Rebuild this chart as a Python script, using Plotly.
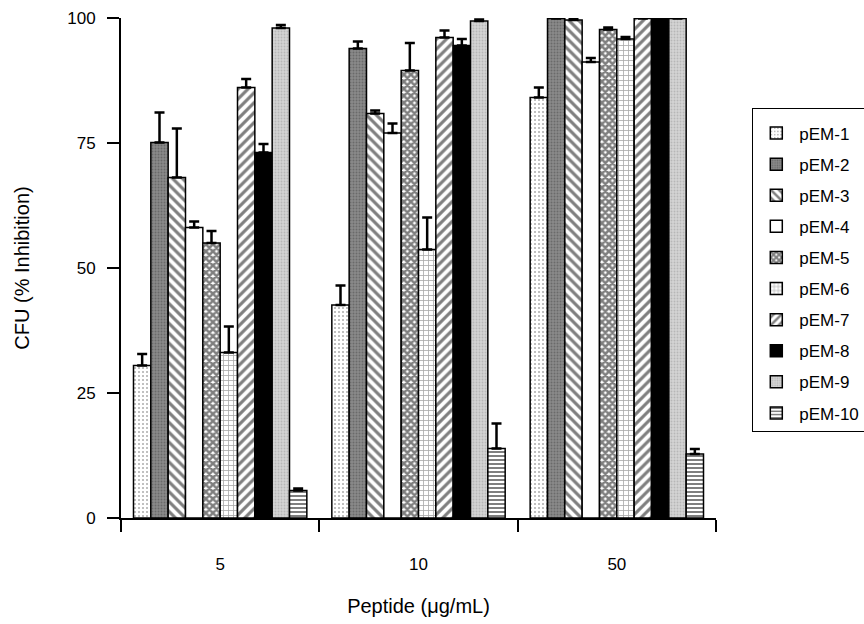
import plotly.graph_objects as go

categories = ["5", "10", "50"]
series_names = ["pEM-1", "pEM-2", "pEM-3", "pEM-4", "pEM-5",
                "pEM-6", "pEM-7", "pEM-8", "pEM-9", "pEM-10"]

pem1 = [30.5, 42.6, 84.1]
pem2 = [75.1, 93.9, 99.9]
pem3 = [68.1, 80.9, 99.6]
pem4 = [58.1, 77.0, 91.2]
pem5 = [55.0, 89.5, 97.7]
pem6 = [33.1, 53.7, 95.8]
pem7 = [86.1, 96.1, 99.9]
pem8 = [73.1, 94.5, 100.0]
pem9 = [98.0, 99.4, 99.9]
pem10 = [5.5, 13.9, 12.8]

err1 = [2.3, 3.9, 2.0]
err2 = [6.0, 1.4, 0.3]
err3 = [9.8, 0.6, 0.3]
err4 = [1.2, 1.9, 0.8]
err5 = [2.4, 5.5, 0.4]
err6 = [5.2, 6.4, 0.4]
err7 = [1.7, 1.4, 0.3]
err8 = [1.7, 1.3, 0.3]
err9 = [0.6, 0.3, 0.3]
err10 = [0.4, 5.0, 1.0]

values = [pem1, pem2, pem3, pem4, pem5, pem6, pem7, pem8, pem9, pem10]
errors = [err1, err2, err3, err4, err5, err6, err7, err8, err9, err10]

styles = [
    dict(color="white", pattern=dict(shape=".", fgcolor="#555555", size=4, solidity=0.2)),
    dict(color="#8a8a8a", pattern=dict(shape=".", fgcolor="#4a4a4a", size=3, solidity=0.35)),
    dict(color="white", pattern=dict(shape="\\", fgcolor="black", size=7, solidity=0.45)),
    dict(color="white", pattern=dict(shape="")),
    dict(color="white", pattern=dict(shape="x", fgcolor="black", size=5, solidity=0.75)),
    dict(color="white", pattern=dict(shape="+", fgcolor="#555555", size=5, solidity=0.3)),
    dict(color="white", pattern=dict(shape="/", fgcolor="black", size=7, solidity=0.45)),
    dict(color="black", pattern=dict(shape="")),
    dict(color="#d4d4d4", pattern=dict(shape=".", fgcolor="#9a9a9a", size=3, solidity=0.3)),
    dict(color="white", pattern=dict(shape="-", fgcolor="black", size=4, solidity=0.5)),
]

fig = go.Figure()
for name, vals, errs, st in zip(series_names, values, errors, styles):
    fig.add_trace(go.Bar(
        name=name, x=categories, y=vals,
        legendgroup=name, cliponaxis=False,
        marker=dict(color=st["color"], pattern=st["pattern"],
                    line=dict(color="black", width=1.5)),
        error_y=dict(type="data", array=errs, arrayminus=[0] * len(errs),
                     symmetric=False, color="black", thickness=2.5, width=5),
    ))

fig.update_layout(
    width=864, height=624,
    margin=dict(l=121, r=148, t=18, b=106, autoexpand=False),
    paper_bgcolor="white", plot_bgcolor="white",
    barmode="group", bargap=0.126, bargroupgap=0,
    font=dict(family="Liberation Sans, Arial, sans-serif", size=17, color="black"),
    showlegend=True,
    legend=dict(x=1.061, y=0.82, xanchor="left", yanchor="top",
                bordercolor="black", borderwidth=1, bgcolor="white",
                font=dict(size=17), traceorder="grouped", tracegroupgap=6,
                itemwidth=36, title=dict(text=" ", font=dict(size=5))),
    xaxis=dict(type="category", showline=True, linecolor="black", linewidth=2,
               ticks="outside", ticklen=12, tickwidth=2, tickcolor="black",
               tickson="boundaries", showgrid=False, ticklabelstandoff=30,
               title=dict(text="Peptide (μg/mL)", standoff=26)),
    yaxis=dict(range=[0, 100], tickvals=[0, 25, 50, 75, 100], showline=True,
               linecolor="black", linewidth=2, ticks="outside", ticklen=12,
               tickwidth=2, tickcolor="black", showgrid=False, zeroline=False,
               ticklabelstandoff=8,
               title=dict(text="CFU (% Inhibition)", standoff=32)),
)

fig.write_html("out.html")
